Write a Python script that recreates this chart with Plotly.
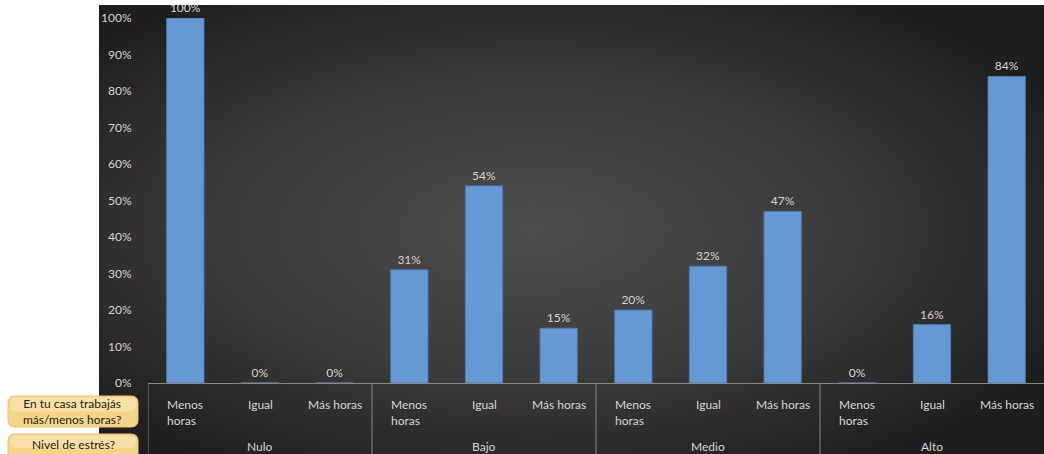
import base64
import plotly.graph_objects as go

# ---- data ----
grupos = ["Nulo", "Bajo", "Medio", "Alto"]
horas = ["Menos<br>horas", "Igual", "Más horas"]
valores = [100, 0, 0, 31, 54, 15, 20, 32, 47, 0, 16, 84]
y_ticks = [0, 10, 20, 30, 40, 50, 60, 70, 80, 90, 100]
y_tick_labels = [f"{v}%" for v in y_ticks]
etiqueta_fila1 = "En tu casa trabajás<br>más/menos horas?"
etiqueta_fila2 = "Nivel de estrés?"

# ---- layout geometry (pixels) ----
W, H = 1044, 454
L, R, T, B = 148, 1044, 18, 383


def px(x):
    return (x - L) / (R - L)


def py(y):
    return (B - y) / (B - T)


FONT = "Lato, 'Open Sans', sans-serif"
TXT = "#dcd4cc"

n = len(valores)
xs = list(range(n))

fig = go.Figure()
fig.add_trace(go.Bar(
    x=xs, y=valores,
    width=0.5,
    marker=dict(color="#6699d4", line=dict(color="#4b79b2", width=1)),
    text=[f"{v}%" for v in valores],
    textposition="outside",
    textfont=dict(family=FONT, size=12, color=TXT),
    cliponaxis=False,
    hoverinfo="skip",
))

# background panel with radial gradient (svg image)
svg = (
    '<svg xmlns="http://www.w3.org/2000/svg" width="945" height="449" '
    'viewBox="0 0 945 449" preserveAspectRatio="none">'
    '<defs><radialGradient id="g" cx="0.46" cy="0.5" r="0.62">'
    '<stop offset="0" stop-color="#4c4c4c"/>'
    '<stop offset="0.55" stop-color="#3a3a3a"/>'
    '<stop offset="1" stop-color="#1e1e1e"/>'
    '</radialGradient></defs>'
    '<rect x="0" y="0" width="945" height="449" fill="url(#g)"/></svg>'
)
src = "data:image/svg+xml;base64," + base64.b64encode(svg.encode()).decode()
fig.add_layout_image(dict(
    source=src, xref="paper", yref="paper",
    x=px(99), y=py(5), sizex=px(1044) - px(99), sizey=py(5) - py(454),
    xanchor="left", yanchor="top", sizing="stretch", layer="below",
))

shapes = []
line_col = "#8c8680"
# table lines
shapes.append(dict(type="line", xref="paper", yref="paper",
                   x0=px(148), x1=px(1044), y0=py(383.5), y1=py(383.5),
                   line=dict(color=line_col, width=1)))
for g in range(len(grupos)):
    xb = -0.5 + 3 * g
    shapes.append(dict(type="line", xref="x", yref="paper",
                       x0=xb, x1=xb, y0=py(383.5), y1=py(456),
                       line=dict(color=line_col, width=1)))


def rrect(x0, y0, x1, y1, r):
    a0, a1 = px(x0), px(x1)
    b0, b1 = py(y0), py(y1)
    rx = r / (R - L)
    ry = r / (B - T)
    return (f"M {a0+rx},{b0} L {a1-rx},{b0} Q {a1},{b0} {a1},{b0-ry} "
            f"L {a1},{b1+ry} Q {a1},{b1} {a1-rx},{b1} L {a0+rx},{b1} "
            f"Q {a0},{b1} {a0},{b1+ry} L {a0},{b0-ry} Q {a0},{b0} {a0+rx},{b0} Z")


for (y0, y1) in [(396, 427), (434, 462)]:
    shapes.append(dict(type="path", xref="paper", yref="paper",
                       path=rrect(8, y0, 138, y1, 7),
                       fillcolor="#f6d48a", line=dict(color="#e9c278", width=1),
                       layer="above"))
    shapes.append(dict(type="path", xref="paper", yref="paper",
                       path=rrect(10, y0 + 1, 136, (y0 + y1) / 2, 6),
                       fillcolor="rgba(255,240,200,0.45)", line=dict(width=0),
                       layer="above"))

annotations = []
for i in xs:
    annotations.append(dict(
        x=i, y=py(395), xref="x", yref="paper", text=horas[i % 3],
        showarrow=False, yanchor="top", xanchor="center", align="left",
        font=dict(family=FONT, size=12, color=TXT)))
for g, name in enumerate(grupos):
    annotations.append(dict(
        x=3 * g + 1, y=py(446), xref="x", yref="paper", text=name,
        showarrow=False, yanchor="middle", xanchor="center",
        font=dict(family=FONT, size=12, color=TXT)))
annotations.append(dict(
    x=px(72), y=py(411.5), xref="paper", yref="paper", text=etiqueta_fila1,
    showarrow=False, xanchor="center", yanchor="middle", align="center",
    font=dict(family=FONT, size=12, color="#231d12")))
annotations.append(dict(
    x=px(73), y=py(444), xref="paper", yref="paper", text=etiqueta_fila2,
    showarrow=False, xanchor="center", yanchor="middle",
    font=dict(family=FONT, size=12, color="#231d12")))

fig.update_layout(
    width=W, height=H,
    margin=dict(l=L, r=W - R, t=T, b=H - B, pad=0),
    paper_bgcolor="white", plot_bgcolor="rgba(0,0,0,0)",
    showlegend=False,
    shapes=shapes, annotations=annotations,
    xaxis=dict(range=[-0.5, n - 0.5], showticklabels=False, showgrid=False,
               zeroline=False, showline=False, ticks="", fixedrange=True),
    yaxis=dict(range=[0, 100], tickvals=y_ticks, ticktext=y_tick_labels,
               showgrid=False, zeroline=False, showline=False,
               ticks="outside", ticklen=13, tickcolor="rgba(0,0,0,0)",
               tickfont=dict(family=FONT, size=12, color=TXT),
               fixedrange=True),
)

fig.write_html(
    "out.html",
    config={"displayModeBar": False},
    post_script="document.body.style.margin='0';document.body.style.overflow='hidden';",
)
